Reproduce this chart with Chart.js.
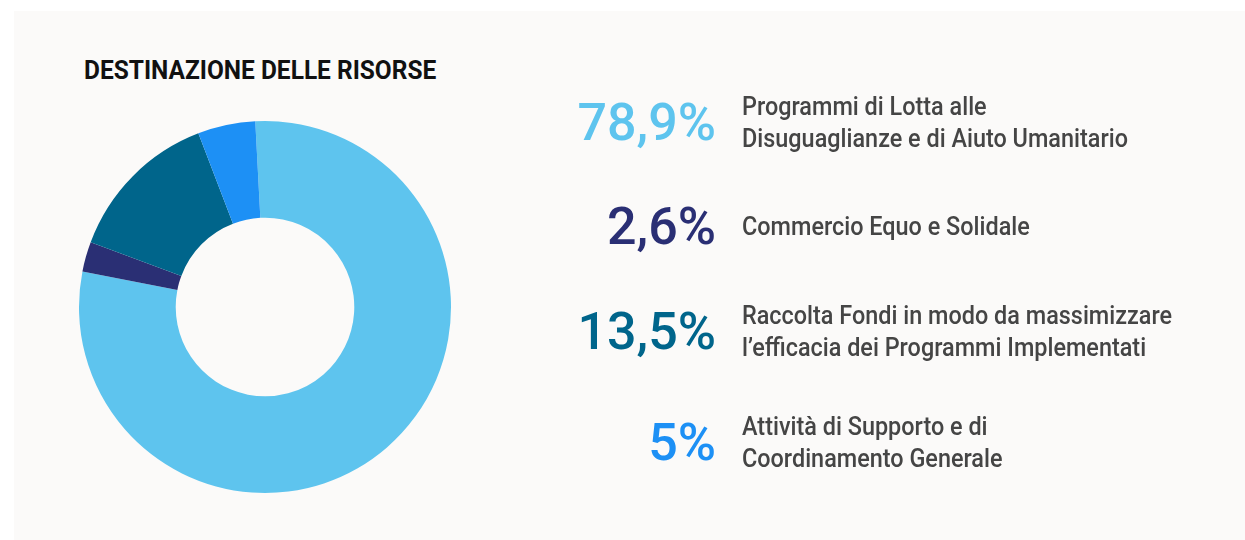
<!DOCTYPE html>
<html lang="it">
<head>
<meta charset="utf-8">
<title>Destinazione delle risorse</title>
<script src="https://cdn.jsdelivr.net/npm/chart.js@4.4.1/dist/chart.umd.min.js"></script>
<style>
  html, body { margin: 0; padding: 0; background: #ffffff; width: 1245px; height: 540px; overflow: hidden; }
  #panel { position: absolute; left: 14px; top: 11px; right: 0; bottom: 0; background: #fbfaf9; }
  #title {
    position: absolute; left: 84px; top: 55px; margin: 0;
    font-family: Roboto, "Liberation Sans", sans-serif; font-weight: 700; font-size: 26px;
    line-height: 30px; color: #111111; white-space: nowrap; transform-origin: 0 0;
  }
  #donut { position: absolute; }
  .row { position: absolute; left: 0; width: 1245px; height: 80px; display: flex; align-items: center; }
  .pct {
    position: absolute; right: 529px; font-family: Roboto, sans-serif; font-weight: 500;
    font-size: 52px; line-height: 52px; white-space: nowrap; transform-origin: 100% 50%;
  }
  .lab {
    position: absolute; left: 742px; font-family: Roboto, sans-serif; font-weight: 500;
    font-size: 25px; line-height: 32px; color: #454545; white-space: nowrap; transform-origin: 0 50%;
  }
</style>
</head>
<body>
<div id="panel"></div>
<h1 id="title">DESTINAZIONE DELLE RISORSE</h1>
<div id="donut"><canvas id="chart"></canvas></div>
<div id="legend"></div>
<script>
// Categories (each split into its printed lines) and their share of resources, in %
const categories = [
  ['Programmi di Lotta alle', 'Disuguaglianze e di Aiuto Umanitario'],
  ['Commercio Equo e Solidale'],
  ['Raccolta Fondi in modo da massimizzare', 'l’efficacia dei Programmi Implementati'],
  ['Attività di Supporto e di', 'Coordinamento Generale']
];
const shares = [78.9, 2.6, 13.5, 5];
const colors = ['#5ec4ee', '#2a2f74', '#00658b', '#1d90f5'];

// Layout
const center = { x: 265, y: 307 };
const outerRadius = 186;
const pad = 4;
const rowCenters = [123, 227, 332, 443];
const titleWidth = 352;
const longestLabelWidth = 430;

const box = document.getElementById('donut');
const side = 2 * (outerRadius + pad);
box.style.left = (center.x - side / 2) + 'px';
box.style.top = (center.y - side / 2) + 'px';
box.style.width = side + 'px';
box.style.height = side + 'px';

new Chart(document.getElementById('chart'), {
  type: 'doughnut',
  data: {
    labels: categories.map(l => l.join(' ')),
    datasets: [{
      data: shares,
      backgroundColor: colors,
      borderWidth: 0,
      hoverOffset: 0
    }]
  },
  options: {
    responsive: true,
    maintainAspectRatio: false,
    animation: false,
    cutout: '48%',
    rotation: -3,
    layout: { padding: pad },
    plugins: { legend: { display: false }, tooltip: { enabled: false } }
  }
});

// Legend: large percentage on the left, description on the right
const legend = document.getElementById('legend');
const fmt = v => v.toLocaleString('it-IT', { maximumFractionDigits: 1 }) + '%';
const labelEls = [];
shares.forEach((v, i) => {
  const row = document.createElement('div');
  row.className = 'row';
  row.style.top = (rowCenters[i] - 40) + 'px';
  const pct = document.createElement('div');
  pct.className = 'pct';
  pct.style.color = colors[i];
  pct.textContent = fmt(v);
  const lab = document.createElement('div');
  lab.className = 'lab';
  categories[i].forEach((line, k) => {
    if (k) lab.appendChild(document.createElement('br'));
    lab.appendChild(document.createTextNode(line));
  });
  row.appendChild(pct);
  row.appendChild(lab);
  legend.appendChild(row);
  labelEls.push(lab);
});

// Narrow the text to the condensed proportions of the design
const title = document.getElementById('title');
title.style.transform = 'scaleX(' + (titleWidth / title.scrollWidth) + ')';
const widest = Math.max(...labelEls.map(e => e.scrollWidth));
const k = longestLabelWidth / widest;
labelEls.forEach(e => { e.style.transform = 'scaleX(' + k + ')'; });
</script>
</body>
</html>
